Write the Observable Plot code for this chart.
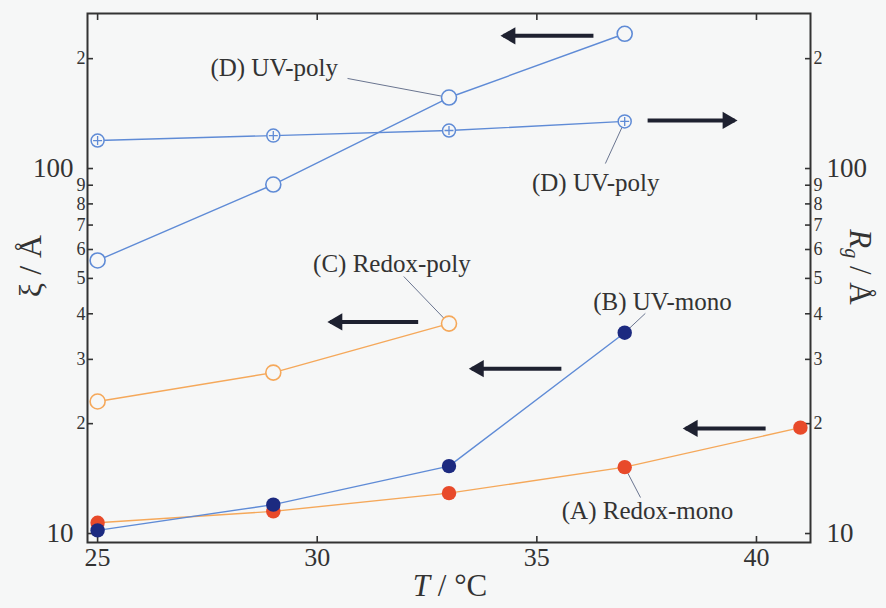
<!DOCTYPE html>
<html><head><meta charset="utf-8">
<script src="https://cdn.jsdelivr.net/npm/d3@7"></script>
<script src="https://cdn.jsdelivr.net/npm/@observablehq/plot@0.6"></script>
<style>
html,body{margin:0;padding:0;background:#f6f7f7;}
svg{display:block;}
svg, svg text, svg tspan { font-family: "Liberation Serif", "DejaVu Serif", serif !important; }
</style></head><body><div id="chart"></div>
<script>
// ---- data ----
const temperatures = [25, 29, 33, 37, 41];
const redoxMonoXi = [10.7, 11.5, 12.9, 15.2, 19.5];   // (A) ξ, filled red
const uvMonoXi = [10.2, 12.0, 15.3, 35.5];            // (B) ξ, filled navy
const redoxPolyXi = [23.0, 27.6, 37.6];               // (C) ξ, open orange
const uvPolyXi = [56.0, 90.4, 156.5, 234];            // (D) ξ, open blue
const uvPolyRg = [119.3, 123.1, 127.1, 134.6];        // (D) Rg, circle-plus blue

const xTicks = [25, 30, 35, 40];
const yMajorTicks = [10, 100];
const yMinorTicks = [20, 30, 40, 50, 60, 70, 80, 90, 200];

const labelText = ["(A) Redox-mono", "(B) UV-mono", "(C) Redox-poly", "(D) UV-poly", "(D) UV-poly"];
const labelX = [37.52, 37.86, 31.70, 29.02, 36.34];
const labelY = [11.56, 43.0, 54.6, 189, 91.0];
const leaderX = [37.36, 37.47, 31.97, 30.69, 36.56];
const leaderY = [12.55, 40.1, 50.6, 176.5, 103.2];
const leaderTargetX = [temperatures[3], temperatures[3], temperatures[2], temperatures[2], temperatures[3]];
const leaderTargetY = [redoxMonoXi[3], uvMonoXi[3], redoxPolyXi[2], uvPolyXi[2], uvPolyRg[3]];

const arrowTail = [36.22, 37.59, 32.23, 35.49, 40.14];
const arrowTip = [34.17, 39.57, 30.23, 33.45, 38.32];
const arrowY = [231, 135.4, 38.0, 28.3, 19.4];

// ---- tables ----
const mk = (vals) => vals.map((v, i) => ({x: temperatures[i], y: v}));
const A = mk(redoxMonoXi), B = mk(uvMonoXi), C = mk(redoxPolyXi), Dxi = mk(uvPolyXi), Drg = mk(uvPolyRg);
const labels = labelText.map((t, i) => ({t, x: labelX[i], y: labelY[i]}));
const leaders = labelText.map((t, i) => ({x1: leaderX[i], y1: leaderY[i], x2: leaderTargetX[i], y2: leaderTargetY[i]}));
const arrows = arrowTail.map((t, i) => ({x1: t, x2: arrowTip[i], y: arrowY[i]}));
const leftArrows = arrows.filter(a => a.x2 < a.x1);
const rightArrows = arrows.filter(a => a.x2 > a.x1);

const BG = "#f6f7f7";
const BLUE = "#5f8bd6", ORANGE = "#f5a85a", NAVY = "#1c2a80", RED = "#e84a2a", INK = "#333";
const AR = "#1e2130";
const digit = d => String(Math.round(d / Math.pow(10, Math.floor(Math.log10(d)))));

const plot = Plot.plot({
  width: 886, height: 608,
  marginLeft: 87, marginRight: 76, marginTop: 13, marginBottom: 66,
  style: {background: BG, color: INK},
  x: {domain: [24.77, 41.23]},
  y: {type: "log", domain: [9.45, 265.9]},
  marks: [
    // axes: ticks inward
    Plot.axisX({anchor: "bottom", ticks: xTicks, tickSize: -6, tickFormat: () => "", label: null, strokeWidth: 1.6}),
    Plot.axisX({anchor: "top", ticks: xTicks, tickSize: -6, tickFormat: () => "", label: null, strokeWidth: 1.6}),
    Plot.axisX({anchor: "bottom", ticks: xTicks, tickSize: 0, tickPadding: 5, fontSize: 26, label: null, tickFormat: d => String(d)}),
    Plot.axisY({anchor: "left", ticks: [...yMajorTicks, ...yMinorTicks], tickSize: -6, tickFormat: () => "", label: null, strokeWidth: 1.6}),
    Plot.axisY({anchor: "right", ticks: [...yMajorTicks, ...yMinorTicks], tickSize: -6, tickFormat: () => "", label: null, strokeWidth: 1.6}),
    Plot.axisY({anchor: "left", ticks: yMajorTicks, tickSize: 0, tickPadding: 14, fontSize: 27, label: null, tickFormat: d => String(d)}),
    Plot.axisY({anchor: "left", ticks: yMinorTicks, tickSize: 0, tickPadding: 2, fontSize: 18, label: null, tickFormat: digit}),
    Plot.axisY({anchor: "right", ticks: yMajorTicks, tickSize: 0, tickPadding: 16, fontSize: 27, label: null, tickFormat: d => String(d)}),
    Plot.axisY({anchor: "right", ticks: yMinorTicks, tickSize: 0, tickPadding: 3, fontSize: 18, label: null, tickFormat: digit}),
    Plot.frame({stroke: INK, strokeWidth: 2}),
    // series lines
    Plot.line(A, {x: "x", y: "y", stroke: ORANGE, strokeWidth: 1.4}),
    Plot.line(C, {x: "x", y: "y", stroke: ORANGE, strokeWidth: 1.4}),
    Plot.line(B, {x: "x", y: "y", stroke: BLUE, strokeWidth: 1.4}),
    Plot.line(Dxi, {x: "x", y: "y", stroke: BLUE, strokeWidth: 1.4}),
    Plot.line(Drg, {x: "x", y: "y", stroke: BLUE, strokeWidth: 1.4}),
    // leader lines
    Plot.link(leaders, {x1: "x1", y1: "y1", x2: "x2", y2: "y2", stroke: "#6a7590", strokeWidth: 1}),
    // markers
    Plot.dot(Dxi, {x: "x", y: "y", r: 7.5, stroke: BLUE, strokeWidth: 1.6, fill: BG}),
    Plot.dot(Drg, {x: "x", y: "y", r: 6.5, stroke: BLUE, strokeWidth: 1.5, fill: BG}),
    Plot.dot(Drg, {x: "x", y: "y", r: 3, symbol: "plus", stroke: BLUE, strokeWidth: 1.3}),
    Plot.dot(C, {x: "x", y: "y", r: 7.5, stroke: ORANGE, strokeWidth: 1.6, fill: BG}),
    Plot.dot(A, {x: "x", y: "y", r: 7.2, fill: RED, stroke: "none"}),
    Plot.dot(B, {x: "x", y: "y", r: 7.2, fill: NAVY, stroke: "none"}),
    // arrows
    Plot.link(leftArrows, {x1: "x1", x2: "x2", y1: "y", y2: "y", stroke: AR, strokeWidth: 4, dx: 3}),
    Plot.dot(leftArrows, {x: "x2", y: "y", symbol: "triangle", r: 6.4, rotate: -90, fill: AR, stroke: "none", dx: 10}),
    Plot.link(rightArrows, {x1: "x1", x2: "x2", y1: "y", y2: "y", stroke: AR, strokeWidth: 4, dx: -3}),
    Plot.dot(rightArrows, {x: "x2", y: "y", symbol: "triangle", r: 6.4, rotate: 90, fill: AR, stroke: "none", dx: -10}),
    // series labels
    Plot.text(labels, {x: "x", y: "y", text: "t", fontSize: 25, fill: INK, textAnchor: "middle", lineAnchor: "middle"})
  ]
});

const svg = d3.select(plot);
svg.append("text")
  .attr("transform", "translate(34,266) rotate(-90)")
  .attr("text-anchor", "middle").attr("dominant-baseline", "middle")
  .attr("font-size", 32).attr("fill", INK)
  .text("ξ / Å");
const rg = svg.append("text")
  .attr("transform", "translate(857,267) rotate(90)")
  .attr("text-anchor", "middle").attr("dominant-baseline", "middle")
  .attr("font-size", 31).attr("fill", INK);
rg.append("tspan").attr("font-style", "italic").text("R");
rg.append("tspan").attr("font-size", 20).attr("dy", 7).attr("font-style", "italic").text("g");
rg.append("tspan").attr("dy", -7).text(" / Å");
const tt = svg.append("text")
  .attr("x", 450).attr("y", 596)
  .attr("text-anchor", "middle")
  .attr("font-size", 31).attr("fill", INK);
tt.append("tspan").attr("font-style", "italic").text("T");
tt.append("tspan").text(" / °C");

document.getElementById("chart").appendChild(plot);
</script></body></html>
